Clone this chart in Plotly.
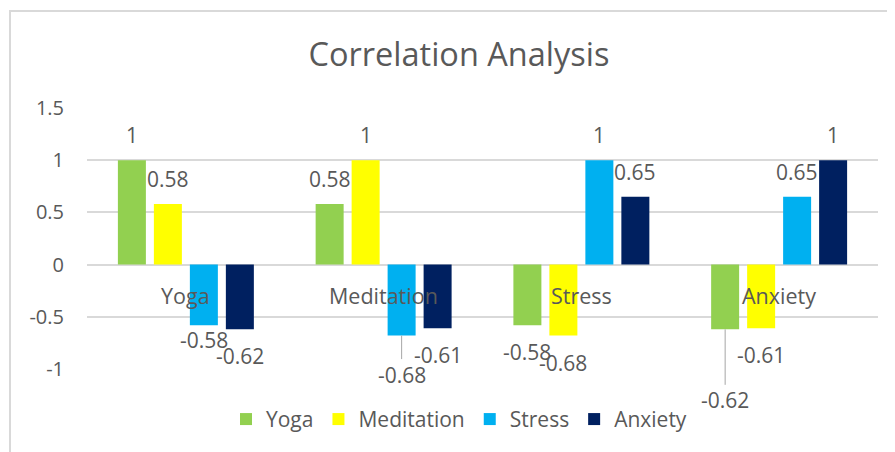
import plotly.graph_objects as go

CATEGORIES = ["Yoga", "Meditation", "Stress", "Anxiety"]
SERIES     = ["Yoga", "Meditation", "Stress", "Anxiety"]
VALUES = {
    "Yoga":       [1, 0.58, -0.58, -0.62],
    "Meditation": [0.58, 1, -0.68, -0.61],
    "Stress":     [-0.58, -0.68, 1, 0.65],
    "Anxiety":    [-0.62, -0.61, 0.65, 1],
}
Y_TICKS = [-1, -0.5, 0, 0.5, 1, 1.5]

COLORS = {"Yoga": "#92D050", "Meditation": "#FFFF00",
          "Stress": "#00B0F0", "Anxiety": "#002060"}
TEXT_C = "#595959"
GRID_C = "#D9D9D9"
FONT   = "Open Sans"

# page has an 8px body margin, so the figure is a bit smaller than the window
OFF = 8
W, H = 895 - OFF, 452 - OFF
L, R, T, B = 87 - OFF, 17, 108 - OFF, 80
PLOT_W = W - L - R
PLOT_H = H - T - B
BARGAP, GROUPGAP = 0.272, 0.222

# label offsets in px (Excel data labels, some moved by hand)
POS_SHIFT = 25
NEG_SHIFT = -27
NUDGE  = {("Stress", "Yoga"): -15}
LEADER = {("Stress", "Meditation"): 39, ("Yoga", "Anxiety"): 71}

fig = go.Figure()
for s in SERIES:
    fig.add_trace(go.Bar(
        x=CATEGORIES, y=VALUES[s], name=s,
        marker=dict(color=COLORS[s], line=dict(width=0)),
    ))

# data labels
slot = PLOT_W / len(CATEGORIES) * (1 - BARGAP) / len(SERIES)
for i, s in enumerate(SERIES):
    dx = (i - (len(SERIES) - 1) / 2) * slot
    for c, v in zip(CATEGORIES, VALUES[s]):
        txt = f"{v:g}"
        if (s, c) in LEADER:
            fig.add_annotation(
                x=c, y=v, xshift=dx, text=txt, showarrow=True,
                arrowhead=0, arrowwidth=1, arrowcolor="#A6A6A6",
                ax=0, ay=LEADER[(s, c)], standoff=0,
                font=dict(size=21, color=TEXT_C, family=FONT),
            )
        else:
            ys = NUDGE.get((s, c), POS_SHIFT if v > 0 else NEG_SHIFT)
            fig.add_annotation(
                x=c, y=v, xshift=dx, yshift=ys, text=txt, showarrow=False,
                yanchor="middle", font=dict(size=21, color=TEXT_C, family=FONT),
            )

# category labels sit next to the zero line, like Excel
for c in CATEGORIES:
    fig.add_annotation(x=c, y=0, yshift=-31, text=c, showarrow=False,
                       yanchor="middle", font=dict(size=21.5, color=TEXT_C, family=FONT))

# chart area border
fig.add_shape(type="rect", xref="paper", yref="paper",
              x0=(2 - L) / PLOT_W, x1=1 + (R + 5) / PLOT_W,
              y0=-(B + 10) / PLOT_H, y1=1 + (T - 2) / PLOT_H,
              line=dict(color=GRID_C, width=2), fillcolor="rgba(0,0,0,0)", layer="below")

fig.update_layout(
    width=W, height=H,
    margin=dict(l=L, r=R, t=T, b=B),
    paper_bgcolor="white", plot_bgcolor="white",
    barmode="group", bargap=BARGAP, bargroupgap=GROUPGAP,
    title=dict(text="Correlation Analysis", x=(459 - OFF) / W, xanchor="center",
               y=1 - (55 - OFF) / H, yanchor="middle",
               font=dict(size=32.5, color=TEXT_C, family=FONT)),
    xaxis=dict(showticklabels=False, showgrid=False, zeroline=False, showline=False),
    yaxis=dict(range=[-1, 1.5], tickvals=Y_TICKS, ticktext=[f"{t:g}" for t in Y_TICKS],
               showgrid=True, gridcolor=GRID_C, gridwidth=1.5,
               zeroline=True, zerolinecolor=GRID_C, zerolinewidth=1.5,
               showline=False, ticks="", ticklabelstandoff=22,
               tickfont=dict(size=20, color=TEXT_C, family=FONT)),
    legend=dict(orientation="h", x=(459 - 87) / PLOT_W, xanchor="center",
                y=-(423 - 372) / PLOT_H, yanchor="middle",
                font=dict(size=21, color=TEXT_C, family=FONT),
                itemwidth=30, traceorder="normal"),
    showlegend=True,
)

fig.write_html("out.html")
